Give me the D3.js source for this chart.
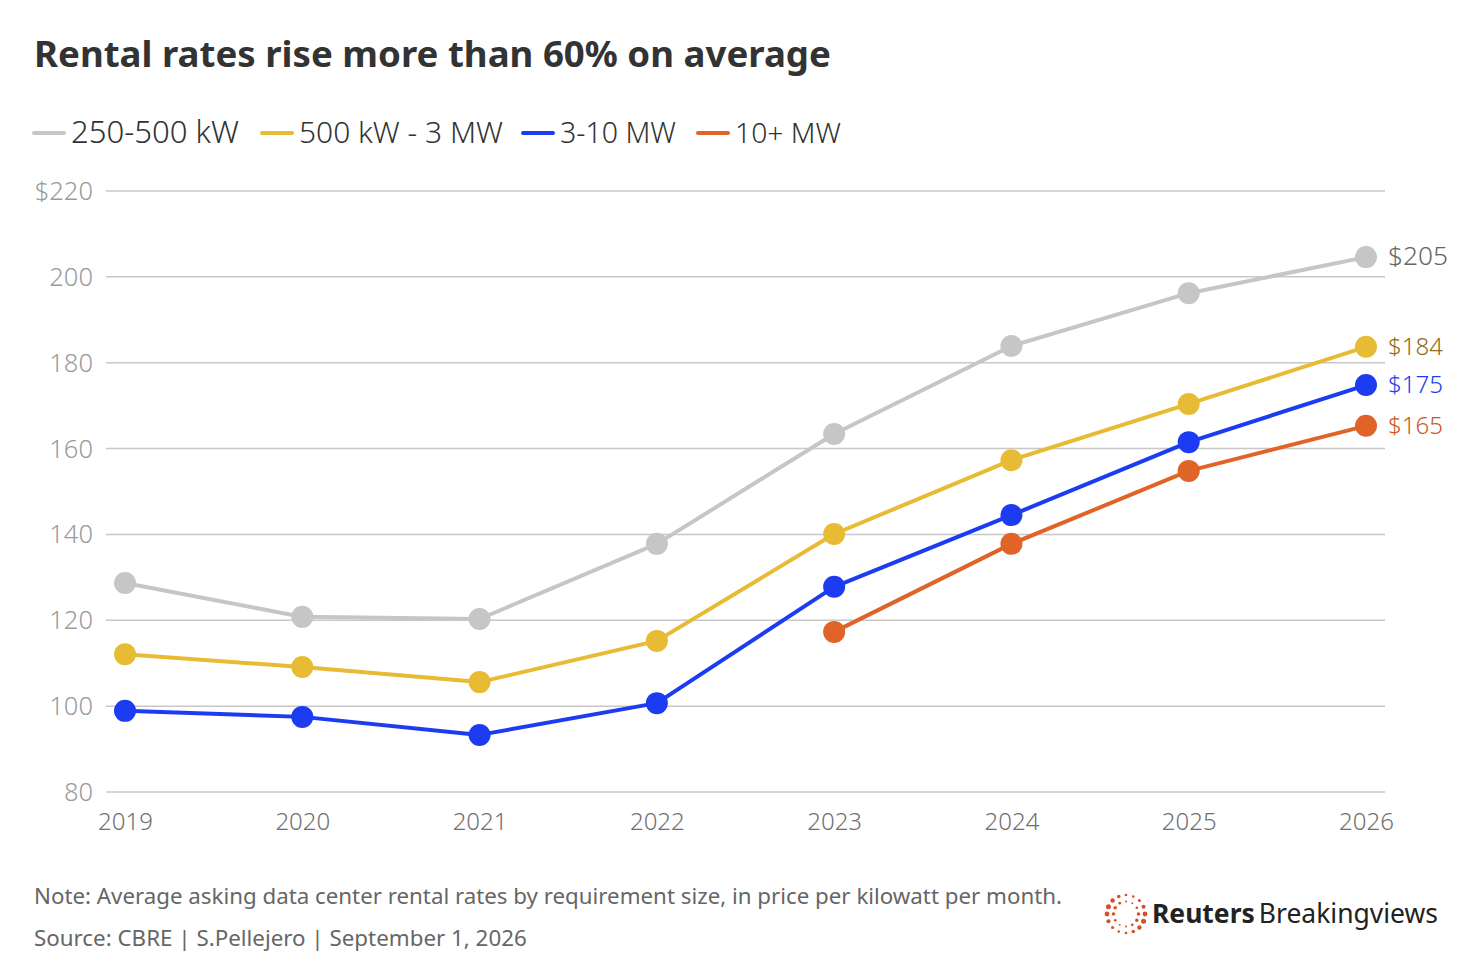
<!DOCTYPE html>
<html><head><meta charset="utf-8">
<script src="https://cdn.jsdelivr.net/npm/d3@7/dist/d3.min.js"></script>
<style>
html,body{margin:0;padding:0;background:#fff;}
svg{display:block;font-family:"Noto Sans","Open Sans",sans-serif;}
</style></head>
<body><svg id="c" width="1482" height="976"></svg>
<script>
const years = [2019, 2020, 2021, 2022, 2023, 2024, 2025, 2026];
const seriesNames = ["250-500 kW", "500 kW - 3 MW", "3-10 MW", "10+ MW"];
const s250_500kW = [128.7, 120.8, 120.3, 137.8, 163.4, 183.9, 196.2, 204.6];
const s500kW_3MW = [112.1, 109.1, 105.6, 115.2, 140.1, 157.3, 170.4, 183.7];
const s3_10MW   = [98.9, 97.5, 93.3, 100.7, 127.8, 144.5, 161.5, 174.8];
const s10MW     = [null, null, null, null, 117.3, 137.8, 154.8, 165.3];
const endLabels = ["$205", "$184", "$175", "$165"];
const yTicks = [80, 100, 120, 140, 160, 180, 200, 220];
const colors = ["#c6c6c6", "#e8bb35", "#1b3cf0", "#e06427"];
const labelColors = ["#666666", "#8c6d17", "#1b3cf0", "#cc5420"];

const svg = d3.select("#c");
const x = d3.scaleLinear().domain([2019, 2026]).range([125, 1366]);
const y = d3.scaleLinear().domain([80, 220]).range([792, 191]);

function fit(sel, w){
  const n = sel.node(); const fs = parseFloat(sel.attr("font-size"));
  const cur = n.getComputedTextLength();
  sel.attr("font-size", (fs * w / cur).toFixed(2));
}

// title
fit(svg.append("text").attr("x", 34).attr("y", 67).attr("font-size", 36)
  .attr("font-weight", 700).attr("fill", "#333").text("Rental rates rise more than 60% on average"), 797);

// legend
const legX = [34, 262, 523, 698];
const legW = [168, 204, 116, 106];
seriesNames.forEach((n, i) => {
  svg.append("line").attr("x1", legX[i]).attr("x2", legX[i] + 30).attr("y1", 133).attr("y2", 133)
    .attr("stroke", colors[i]).attr("stroke-width", 4).attr("stroke-linecap", "round");
  fit(svg.append("text").attr("x", legX[i] + 37).attr("y", 143).attr("font-size", 28)
    .attr("fill", "#333").attr("font-weight", 300).text(n), legW[i]);
});

// grid
const g = svg.append("g");
g.selectAll("line.grid").data(yTicks).join("line").attr("class", "grid")
  .attr("x1", 106).attr("x2", 1385).attr("y1", d => y(d)).attr("y2", d => y(d))
  .attr("stroke", "#c8c8c8").attr("stroke-width", 1.5);
g.selectAll("text.yt").data(yTicks).join("text").attr("class", "yt")
  .attr("x", 93).attr("y", d => y(d) + 9).attr("text-anchor", "end")
  .attr("font-size", 25.5).attr("fill", "#9a9a9a").attr("font-weight", 300)
  .text(d => d === 220 ? "$220" : d);

// x axis labels
const xAxis = d3.axisBottom(x).tickValues(years).tickFormat(d3.format("d")).tickSize(0).tickPadding(0);
const xa = svg.append("g").attr("transform", "translate(0,830)").call(xAxis);
xa.select(".domain").remove();
xa.selectAll("text").attr("font-size", 24).attr("fill", "#707070").attr("font-weight", 300)
  .attr("font-family", "'Noto Sans','Open Sans',sans-serif").attr("dy", 0);

// series
const all = [s250_500kW, s500kW_3MW, s3_10MW, s10MW];
const line = d3.line().defined(d => d.v != null).x(d => x(d.t)).y(d => y(d.v));
all.forEach((arr, i) => {
  const data = years.map((t, j) => ({t, v: arr[j]}));
  svg.append("path").datum(data).attr("d", line).attr("fill", "none")
    .attr("stroke", colors[i]).attr("stroke-width", 4).attr("stroke-linejoin", "round");
  svg.selectAll("circle.s" + i).data(data.filter(d => d.v != null)).join("circle")
    .attr("class", "s" + i).attr("cx", d => x(d.t)).attr("cy", d => y(d.v)).attr("r", 11)
    .attr("fill", colors[i]);
  const last = data[data.length - 1];
  fit(svg.append("text").attr("x", 1388).attr("y", y(last.v) + 8).attr("font-size", 25)
    .attr("fill", labelColors[i]).attr("font-weight", 300).text(endLabels[i]), i === 0 ? 60 : 55);
});

// footer
fit(svg.append("text").attr("x", 34).attr("y", 904).attr("font-size", 22).attr("fill", "#666")
  .text("Note: Average asking data center rental rates by requirement size, in price per kilowatt per month."), 1028);
fit(svg.append("text").attr("x", 34).attr("y", 946).attr("font-size", 22).attr("fill", "#666")
  .text("Source: CBRE | S.Pellejero | September 1, 2026"), 493);

// logo
const logo = svg.append("g").attr("transform", "translate(1126,914)");
const rings = [{r: 19, n: 16, s: 2.1}, {r: 12.5, n: 12, s: 1.5}];
rings.forEach(ring => {
  d3.range(ring.n).forEach(k => {
    const a = k / ring.n * 2 * Math.PI;
    const sz = ring.s * (0.6 + 0.6 * (0.5 + 0.5 * Math.sin(a * 2 + 1)));
    logo.append("circle").attr("cx", ring.r * Math.cos(a)).attr("cy", ring.r * Math.sin(a))
      .attr("r", sz).attr("fill", "#d2502a");
  });
});
const lt = svg.append("text").attr("x", 1152).attr("y", 923).attr("font-size", 25).attr("fill", "#222");
lt.append("tspan").attr("font-weight", 700).text("Reuters");
lt.append("tspan").attr("dx", 4).attr("font-weight", 400).text("Breakingviews");
fit(lt, 282);
</script></body></html>
